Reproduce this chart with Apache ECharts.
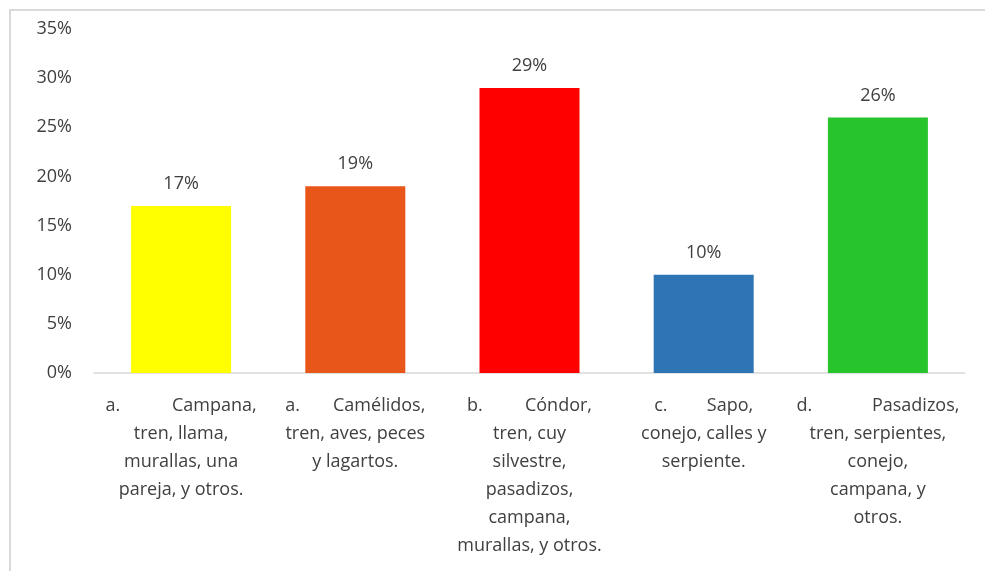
<!DOCTYPE html>
<html>
<head>
<meta charset="utf-8">
<script src="https://cdn.jsdelivr.net/npm/echarts@6/dist/echarts.min.js"></script>
<style>html,body{margin:0;padding:0;background:#fff}#c{width:985px;height:571px}</style>
</head>
<body>
<div id="c"></div>
<script>
const categories = [
  "a. Campana,\ntren, llama,\nmurallas, una\npareja, y otros.",
  "a. Camélidos,\ntren, aves, peces\ny lagartos.",
  "b. Cóndor,\ntren, cuy\nsilvestre,\npasadizos,\ncampana,\nmurallas, y otros.",
  "c. Sapo,\nconejo, calles y\nserpiente.",
  "d. Pasadizos,\ntren, serpientes,\nconejo,\ncampana, y\notros."
];
const values = [17, 19, 29, 10, 26];
const barColors = ["#FFFF00", "#E8561A", "#FF0000", "#2E75B6", "#27C42B"];
const yTicks = [0, 5, 10, 15, 20, 25, 30, 35];
// justified first-line widths (style)
const firstLineWidths = [151, 140, 125, 99, 163];

const FONT = "Open Sans";
const FS = 18;
const ctx = document.createElement('canvas').getContext('2d');
ctx.font = FS + 'px "' + FONT + '"';
const rich = {};
const gapOf = {};
categories.forEach((c, i) => {
  const first = c.split('\n')[0];
  const sp = first.indexOf(' ');
  const a = first.slice(0, sp), b = first.slice(sp + 1);
  const w = Math.max(4, firstLineWidths[i] - ctx.measureText(a).width - ctx.measureText(b).width);
  rich['g' + i] = { width: w, fontSize: FS, lineHeight: 28 };
  gapOf[c] = i;
});

const chart = echarts.init(document.getElementById('c'));
chart.setOption({
  animation: false,
  textStyle: { fontFamily: FONT },
  graphic: [{
    type: 'rect', shape: { x: 10, y: 10, width: 1200, height: 800 },
    style: { fill: 'none', stroke: '#d9d9d9', lineWidth: 2 }, silent: true
  }],
  grid: { left: 94, right: 20, top: 29, bottom: 198, containLabel: false },
  xAxis: {
    type: 'category', data: categories,
    axisLine: { lineStyle: { color: '#d9d9d9', width: 1.5 } },
    axisTick: { show: false },
    axisLabel: {
      interval: 0, color: '#404040', fontSize: FS, fontFamily: FONT, lineHeight: 28, margin: 19, align: 'center',
      rich: rich,
      formatter: function (v) {
        const i = gapOf[v];
        const lines = v.split('\n');
        const sp = lines[0].indexOf(' ');
        lines[0] = lines[0].slice(0, sp) + '{g' + i + '|}' + lines[0].slice(sp + 1);
        return lines.join('\n');
      }
    }
  },
  yAxis: {
    type: 'value', min: 0, max: 35, interval: 5,
    axisLine: { show: false }, axisTick: { show: false }, splitLine: { show: false },
    axisLabel: { color: '#404040', fontSize: FS, fontFamily: FONT, margin: 22, formatter: v => yTicks.includes(v) ? v + '%' : '' }
  },
  series: [{
    type: 'bar', barWidth: 100,
    data: values.map((v, i) => ({ value: v, itemStyle: { color: barColors[i] } })),
    label: { show: true, position: 'top', distance: 13, color: '#404040', fontSize: FS, fontFamily: FONT, formatter: p => p.value + '%' }
  }]
});
</script>
</body>
</html>
